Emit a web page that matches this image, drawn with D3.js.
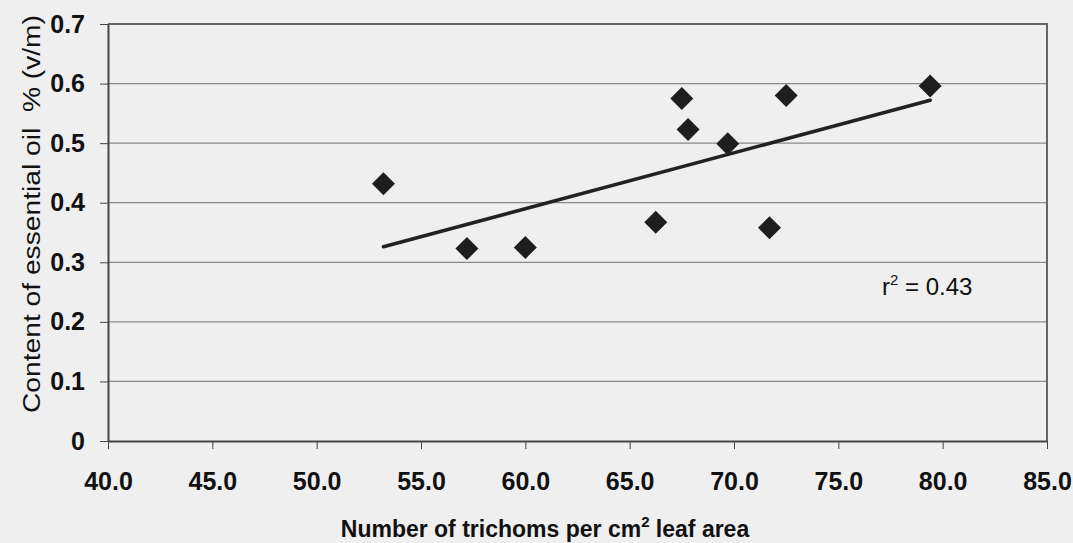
<!DOCTYPE html>
<html>
<head>
<meta charset="utf-8">
<script src="https://cdn.jsdelivr.net/npm/d3@7"></script>
<style>
    body { margin: 0; background: #efefef; }
    #plot-area { width: 1073px; height: 543px; }
    .axis path, .axis line { stroke: #444; }
    .axis text { fill: #111; }
</style>
</head>
<body>
<div id="plot-area"></div>
<script>
// trichome density vs essential oil content
const trichoms = [53.2, 57.2, 60.0, 66.25, 67.5, 67.8, 69.7, 71.7, 72.5, 79.4];
const oilContent = [0.432, 0.323, 0.325, 0.367, 0.575, 0.523, 0.499, 0.358, 0.58, 0.596];
const trendX = [53.2, 79.4];
const trendY = [0.326, 0.572];
const xTicks = [40, 45, 50, 55, 60, 65, 70, 75, 80, 85];
const yTicks = [0, 0.1, 0.2, 0.3, 0.4, 0.5, 0.6, 0.7];
const rSquared = "0.43";

const margin = {top: 24, right: 26, bottom: 102, left: 108},
    fullWidth = 1073,
    fullHeight = 543,
    width = fullWidth - margin.left - margin.right,
    height = fullHeight - margin.top - margin.bottom;

const x = d3.scaleLinear().domain([40, 85]).range([0, width]);
const y = d3.scaleLinear().domain([0, 0.7]).range([height, 0]);

const svg = d3.select("#plot-area").append("svg")
    .attr("width", fullWidth)
    .attr("height", fullHeight);

const g = svg.append("g").attr("transform", "translate(" + margin.left + "," + margin.top + ")");

//gridlines
g.append("g")
    .selectAll("line")
    .data(yTicks.filter(function (d) { return d > 0; }))
    .join("line")
    .attr("x1", 0).attr("x2", width)
    .attr("y1", function (d) { return y(d); })
    .attr("y2", function (d) { return y(d); })
    .attr("stroke", "#8a8a8a")
    .attr("stroke-width", 1.2);

//plot border (top/right)
g.append("path")
    .attr("d", "M0,0H" + width + "V" + height)
    .attr("fill", "none")
    .attr("stroke", "#666")
    .attr("stroke-width", 2);

const tickFont = "'Liberation Sans', Arial, sans-serif";

//x-axis
const xAxis = g.append("g")
    .attr("class", "axis")
    .attr("transform", "translate(0," + height + ")")
    .call(d3.axisBottom(x).tickValues(xTicks).tickSize(8).tickSizeOuter(0).tickPadding(23)
        .tickFormat(d3.format(".1f")));
xAxis.select(".domain").attr("stroke-width", 2);
xAxis.selectAll("text")
    .style("font-family", tickFont)
    .style("font-weight", "bold")
    .style("font-size", "25px");

//y-axis
const yAxis = g.append("g")
    .attr("class", "axis")
    .call(d3.axisLeft(y).tickValues(yTicks).tickSize(8).tickSizeOuter(0).tickPadding(15)
        .tickFormat(function (d) { return d === 0 ? "0" : d3.format(".1f")(d); }));
yAxis.select(".domain").attr("stroke-width", 2);
yAxis.selectAll("text")
    .style("font-family", tickFont)
    .style("font-weight", "bold")
    .style("font-size", "25px");

//axis labels
const xLabel = svg.append("text")
    .attr("x", 545)
    .attr("y", 537)
    .attr("text-anchor", "middle")
    .style("font-family", tickFont)
    .style("font-size", "23px")
    .style("font-weight", "bold")
    .attr("fill", "#111");
xLabel.append("tspan").text("Number of trichoms per cm");
xLabel.append("tspan").attr("dy", -10).style("font-size", "15px").text("2");
xLabel.append("tspan").attr("dy", 10).text(" leaf area");

svg.append("text")
    .attr("transform", "translate(40,214) rotate(-90)")
    .attr("text-anchor", "middle")
    .attr("textLength", 398)
    .attr("lengthAdjust", "spacingAndGlyphs")
    .style("font-family", tickFont)
    .style("font-size", "23px")
    .attr("fill", "#111")
    .attr("xml:space", "preserve")
    .text("Content of essential oil  % (v/m)");

//trend line
const points = trichoms.map(function (d, i) { return {x: d, y: oilContent[i]}; });
const trend = trendX.map(function (d, i) { return {x: d, y: trendY[i]}; });

g.append("path")
    .datum(trend)
    .attr("d", d3.line().x(function (d) { return x(d.x); }).y(function (d) { return y(d.y); }))
    .attr("fill", "none")
    .attr("stroke", "#222")
    .attr("stroke-width", 3.5)
    .attr("stroke-linecap", "round");

//diamonds
g.append("g")
    .selectAll("path")
    .data(points)
    .join("path")
    .attr("transform", function (d) { return "translate(" + x(d.x) + "," + y(d.y) + ")"; })
    .attr("d", "M0,-11.5L11.5,0L0,11.5L-11.5,0Z")
    .attr("fill", "#1e1e1e");

//r squared
const rText = svg.append("text")
    .attr("x", 882)
    .attr("y", 295)
    .style("font-family", tickFont)
    .style("font-size", "24px")
    .attr("fill", "#111");
rText.append("tspan").text("r");
rText.append("tspan").attr("dy", -10).style("font-size", "15px").text("2");
rText.append("tspan").attr("dy", 10).text(" = " + rSquared);
</script>
</body>
</html>
